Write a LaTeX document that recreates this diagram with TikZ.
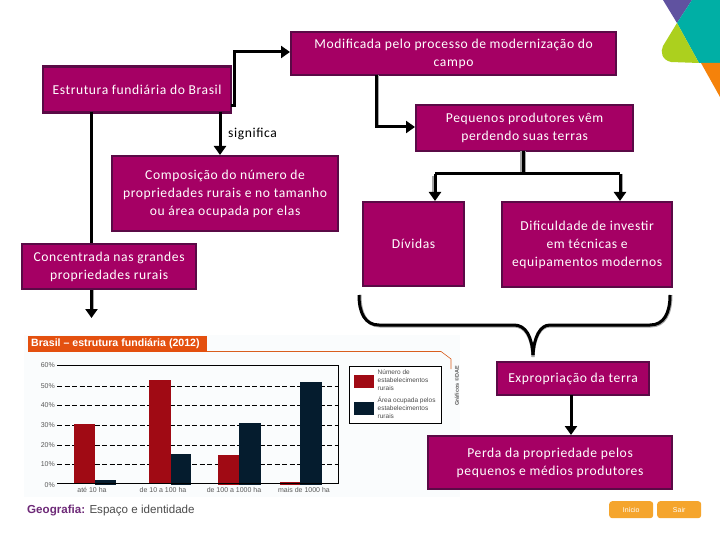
\documentclass[tikz,border=0pt]{standalone}
\usepackage{fontspec}
\setmainfont{Carlito}[LetterSpace=4.4]
\newfontfamily\arialf{Liberation Sans}
\usetikzlibrary{arrows.meta}
\definecolor{boxfill}{HTML}{A50064}
\definecolor{boxline}{HTML}{5A0A46}
\definecolor{barred}{HTML}{A00A14}
\definecolor{bardark}{HTML}{051C2E}
\definecolor{orangebar}{HTML}{E4500F}
\definecolor{btn}{HTML}{F5A52D}
\definecolor{geo}{HTML}{6E2A78}
\tikzset{
  mbox/.style={draw=boxline,line width=2.2pt,fill=boxfill,text=white,font=\fontsize{13.6}{18}\selectfont,align=center,inner sep=0pt,anchor=north west},
  conn/.style={line width=3pt,black},
  shade/.style={line width=1.5pt,black!35},
  arr/.style={conn,-{Triangle[length=9pt,width=12pt]}},
  chartlab/.style={font=\arialf\fontsize{7}{8}\selectfont,text=black!65,inner sep=0pt},
  ylab/.style={chartlab,anchor=east},
  grid/.style={black,line width=0.9pt,dash pattern=on 5pt off 2.5pt},
  btnbox/.style={fill=btn,rounded corners=3pt,text=white,font=\arialf\fontsize{7}{8}\selectfont,inner sep=0pt,anchor=north west},
}
\begin{document}
\begin{tikzpicture}[x=1pt,y=-1pt]
\useasboundingbox (0,0) rectangle (720,540);
% corner decoration
\fill[white] (0,0) rectangle (720,540);
\fill[fill={rgb,255:red,96;green,82;blue,160}] (663,0) -- (692,0) -- (677,23) -- cycle;
\fill[fill={rgb,255:red,0;green,175;blue,165}] (692,0) -- (720,0) -- (720,63) -- (699,63) -- (677,23) -- cycle;
\fill[fill={rgb,255:red,172;green,208;blue,30}] (677,23) -- (699,63) -- (671,62) .. controls (662,60) and (660,52) .. (663,46) -- cycle;
\fill[fill={rgb,255:red,245;green,130;blue,10}] (701,63) -- (720,63) -- (720,97) -- cycle;
% chart
\fill[fill={rgb,255:red,250;green,252;blue,253}] (24,335) rectangle (460,497);
\fill[orangebar] (28,336) rectangle (207,352);
\node[anchor=west,inner sep=0pt,text=white,font=\arialf\bfseries\fontsize{10.6}{12}\selectfont] (ct) at (31,344) {Brasil – estrutura fundiária (2012)};
\draw[orangebar!70!brown,line width=0.6pt] (207,351.5) -- (441,351.5) -- (451,359) -- (451,369);
\node[rotate=90,inner sep=0pt,text=black!65,font=\arialf\bfseries\fontsize{5.5}{6}\selectfont] (cr) at (457,386) {Gráficos ©DAE};
\draw[black,line width=0.8pt] (57,365.5) -- (338,365.5) -- (338,483.5);
\foreach \yy/\tt in {386/50,405/40,425/30,445/20,464/10}{
  \draw[grid] (57,\yy) -- (338,\yy);
  \node[ylab] at (55,\yy) {\tt\%};
}
\node[ylab] at (55,365.5) {60\%};
\node[ylab] at (55,485) {0\%};
\fill[barred] (74,424) rectangle (95,484);
\fill[bardark] (95,480) rectangle (116,485);
\fill[barred] (149,380) rectangle (171,484);
\fill[bardark] (171,454) rectangle (191,485);
\fill[barred] (218,455) rectangle (239,485);
\fill[bardark] (239,423) rectangle (261,485);
\fill[barred] (280,482) rectangle (300,485);
\fill[bardark] (300,382) rectangle (322,485);
\draw[black,line width=1pt] (57,483.5) -- (338,483.5);
\node[chartlab] at (92,490) {até 10 ha};
\node[chartlab] at (163,490) {de 10 a 100 ha};
\node[chartlab] at (234,490) {de 100 a 1000 ha};
\node[chartlab] at (304,490) {mais de 1000 ha};
% legend
\draw[black,line width=0.8pt,fill=white] (349.5,366) rectangle (441.5,423);
\fill[barred] (354,375) rectangle (374,388);
\fill[bardark] (354,402) rectangle (374,415);
\node[anchor=north west,inner sep=0pt,text=black!70,align=left,font=\arialf\fontsize{6.5}{8}\selectfont] (l1) at (377.5,369.5) {Número de\\estabelecimentos\\rurais};
\node[anchor=north west,inner sep=0pt,text=black!70,align=left,font=\arialf\fontsize{6.5}{8}\selectfont] (l2) at (377.5,396.5) {Área ocupada pelos\\estabelecimentos\\rurais};
% boxes
\node[mbox,minimum width=325pt,minimum height=43pt] (top) at (290,31) {Modificada pelo processo de modernização do\\campo};
\node[mbox,minimum width=188pt,minimum height=46pt] (est) at (42,65.5) {Estrutura fundiária do Brasil};
\node[mbox,minimum width=217pt,minimum height=46pt] (peq) at (415,104) {Pequenos produtores vêm\\perdendo suas terras};
\node[mbox,minimum width=226pt,minimum height=75pt] (comp) at (111,155) {Composição do número de\\propriedades rurais e no tamanho\\ou área ocupada por elas};
\node[mbox,minimum width=174pt,minimum height=45pt] (conc) at (21,243) {Concentrada nas grandes\\propriedades rurais};
\node[mbox,minimum width=101pt,minimum height=84pt] (div) at (362,201) {Dívidas};
\node[mbox,minimum width=170pt,minimum height=85pt] (dif) at (501,201) {Dificuldade de investir\\em técnicas e\\equipamentos modernos};
\node[mbox,minimum width=152pt,minimum height=33pt] (exp) at (496,361) {Expropriação da terra};
\node[mbox,minimum width=244pt,minimum height=53pt] (per) at (427,435) {Perda da propriedade pelos\\pequenos e médios produtores};
\node[anchor=west,inner sep=0pt,font=\fontsize{13.6}{16}\selectfont] (sig) at (228,134) {significa};
% connectors
\coordinate (a1) at (231,106);
\coordinate (a2) at (234,52);
\draw[shade] (233,50.5) -- (282,50.5);
\draw[arr] (a1) -- (a1-|a2) -- (a2) -- (top.west|-a2);
\coordinate (b1) at (220,112);
\draw[arr] (b1) -- (b1|-comp.north);
\coordinate (c1) at (91,112);
\draw[conn] (c1) -- (c1|-conc.north);
\coordinate (c2) at (91.5,318);
\draw[shade] (93.5,290) -- (93.5,310);
\draw[arr] (c2|-conc.south) -- (c2);
\coordinate (d1) at (376,75);
\coordinate (d2) at (376,127);
\draw[shade] (378,75) -- (378,125);
\draw[arr] (d1) -- (d2) -- (d2-|peq.west);
\coordinate (e1) at (523,151);
\coordinate (e2) at (523,174);
\coordinate (e3) at (435,174);
\coordinate (e4) at (620,174);
\draw[shade] (521,151) -- (521,172);
\draw[shade] (525,151) -- (525,172);
\draw[shade] (433,176) -- (433,192);
\draw[shade] (622,174) -- (622,192);
\draw[conn] (e1) -- (e2);
\draw[arr] (e3) -- (e3|-div.north);
\draw[arr] (e4) -- (e4|-dif.north);
\draw[conn] (e3) -- (e4);
% brace
\draw[black!35,line width=3pt] (360,295) .. controls (360,313) and (366,326) .. (380,326) -- (514,326) .. controls (526,326) and (532,338) .. (533,357);
\draw[black!35,line width=3pt] (671,295) .. controls (671,313) and (665,326) .. (651,326) -- (550,326) .. controls (540,326) and (534,338) .. (533,357);
\draw[conn] (359,295) .. controls (359,313) and (365,325) .. (379,325) -- (514,325) .. controls (526,325) and (532,337) .. (533,355);
\draw[conn] (670,295) .. controls (670,313) and (664,325) .. (650,325) -- (550,325) .. controls (540,325) and (534,337) .. (533,355);
\coordinate (f1) at (571,395);
\draw[arr] (f1) -- (f1|-per.north);
% footer
\node[anchor=west,inner sep=0pt,font=\arialf\fontsize{11.6}{13}\selectfont,text=black!70] (geo) at (27,511) {\textcolor{geo}{\bfseries Geografia:} Espaço e identidade};
\node[btnbox,minimum width=44pt,minimum height=17pt] (ini) at (609,501) {Início};
\node[btnbox,minimum width=44pt,minimum height=17pt] (sai) at (657,501) {Sair};
\end{tikzpicture}
\end{document}
